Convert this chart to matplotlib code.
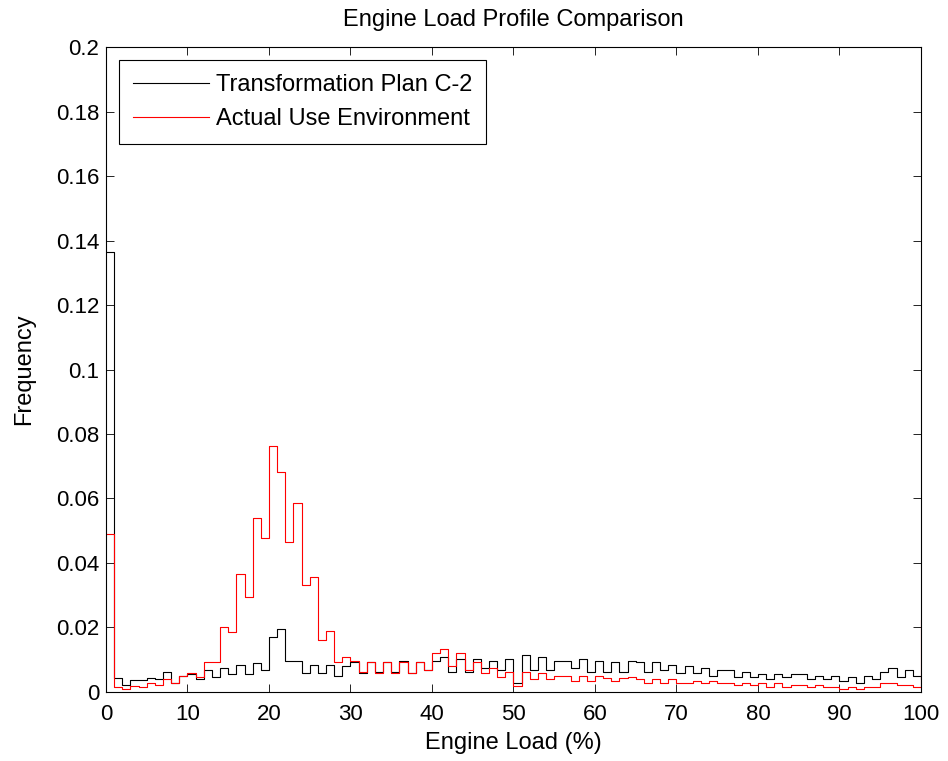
import numpy as np
import matplotlib
matplotlib.use('Agg')
import matplotlib.pyplot as plt

plt.rcParams['font.family'] = ['Liberation Sans', 'DejaVu Sans']

# engine load bins, 0..100 %
load_pct = np.arange(0, 101)

# frequency per load bin, transformation plan C-2
plan_c2 = [
    0.1363, 0.0044, 0.0021, 0.0037, 0.0037, 0.0043, 0.0039, 0.0063, 0.0029, 0.0048,
    0.0056, 0.0039, 0.0068, 0.0045, 0.0073, 0.0056, 0.0084, 0.0056, 0.0091, 0.0068,
    0.0172, 0.0195, 0.0097, 0.0097, 0.0058, 0.0084, 0.0058, 0.0084, 0.0050, 0.0081,
    0.0094, 0.0058, 0.0092, 0.0063, 0.0092, 0.0063, 0.0096, 0.0058, 0.0092, 0.0068,
    0.0096, 0.0110, 0.0063, 0.0103, 0.0063, 0.0101, 0.0073, 0.0097, 0.0068, 0.0103,
    0.0027, 0.0115, 0.0068, 0.0107, 0.0068, 0.0097, 0.0097, 0.0073, 0.0103, 0.0063,
    0.0097, 0.0063, 0.0092, 0.0063, 0.0097, 0.0092, 0.0063, 0.0092, 0.0068, 0.0084,
    0.0058, 0.0081, 0.0058, 0.0073, 0.0050, 0.0068, 0.0068, 0.0045, 0.0063, 0.0045,
    0.0056, 0.0039, 0.0056, 0.0045, 0.0056, 0.0056, 0.0039, 0.0050, 0.0039, 0.0050,
    0.0034, 0.0045, 0.0027, 0.0050, 0.0039, 0.0063, 0.0073, 0.0045, 0.0068, 0.0050,
    0.0040,
]

# frequency per load bin, actual use environment
actual_use = [
    0.0490, 0.0014, 0.0009, 0.0020, 0.0014, 0.0027, 0.0022, 0.0039, 0.0029, 0.0050,
    0.0058, 0.0045, 0.0092, 0.0092, 0.0203, 0.0185, 0.0366, 0.0296, 0.0540, 0.0476,
    0.0763, 0.0681, 0.0464, 0.0587, 0.0331, 0.0355, 0.0161, 0.0190, 0.0092, 0.0107,
    0.0097, 0.0063, 0.0092, 0.0058, 0.0092, 0.0058, 0.0092, 0.0058, 0.0092, 0.0068,
    0.0120, 0.0132, 0.0081, 0.0122, 0.0068, 0.0092, 0.0058, 0.0073, 0.0045, 0.0063,
    0.0017, 0.0063, 0.0039, 0.0058, 0.0039, 0.0050, 0.0050, 0.0034, 0.0050, 0.0034,
    0.0050, 0.0042, 0.0034, 0.0042, 0.0045, 0.0039, 0.0029, 0.0039, 0.0027, 0.0039,
    0.0027, 0.0027, 0.0034, 0.0027, 0.0034, 0.0027, 0.0027, 0.0022, 0.0029, 0.0022,
    0.0027, 0.0014, 0.0027, 0.0014, 0.0022, 0.0022, 0.0014, 0.0022, 0.0014, 0.0014,
    0.0008, 0.0014, 0.0008, 0.0014, 0.0014, 0.0027, 0.0027, 0.0022, 0.0022, 0.0014,
    0.0223,
]

x_ticks = np.arange(0, 101, 10)
y_ticks = np.arange(0, 0.201, 0.02)
y_tick_labels = ['0', '0.02', '0.04', '0.06', '0.08', '0.1', '0.12', '0.14', '0.16', '0.18', '0.2']

fs_tick = 16
fs_text = 17

fig = plt.figure(figsize=(9.48, 7.61), dpi=100)
ax = fig.add_axes([0.1118, 0.0907, 0.8597, 0.8475])

ax.step(load_pct, plan_c2, where='post', color='black', linewidth=0.8,
        label='Transformation Plan C-2')
ax.step(load_pct, actual_use, where='post', color='red', linewidth=0.8,
        label='Actual Use Environment')

ax.set_xlim(0, 100)
ax.set_ylim(0, 0.2)
ax.set_xticks(x_ticks)
ax.set_yticks(y_ticks)
ax.set_yticklabels(y_tick_labels)
ax.tick_params(direction='in', top=True, right=True, length=6, width=0.6,
               labelsize=fs_tick)
ax.tick_params(axis='x', pad=9)
ax.tick_params(axis='y', pad=5)
for spine in ax.spines.values():
    spine.set_linewidth(0.8)

ax.set_title('Engine Load Profile Comparison', fontsize=fs_text, pad=15)
ax.set_xlabel('Engine Load (%)', fontsize=fs_text, labelpad=5)
ax.set_ylabel('Frequency', fontsize=fs_text, labelpad=15)

leg = ax.legend(loc='upper left', fontsize=fs_text, handlelength=3.2,
                handletextpad=0.3, fancybox=False, framealpha=1,
                edgecolor='black', borderaxespad=0.55, borderpad=0.6,
                labelspacing=0.5)
leg.get_frame().set_linewidth(0.8)

fig.savefig('out.png', dpi=100)
